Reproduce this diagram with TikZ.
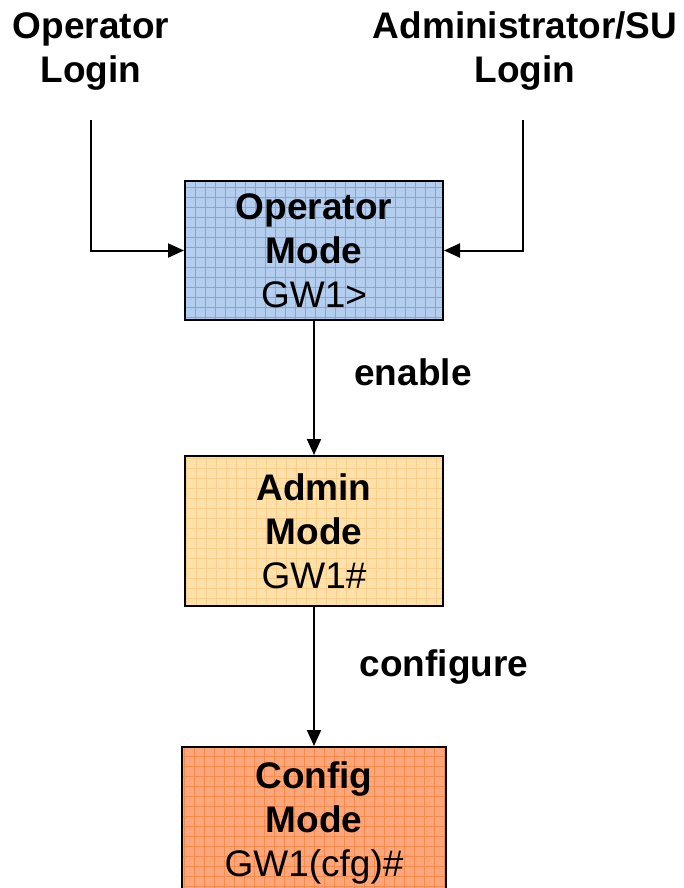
\documentclass[tikz,border=0pt]{standalone}
\usepackage{fontspec}
\setmainfont{Liberation Sans}
\usetikzlibrary{arrows.meta}

\definecolor{opfill}{HTML}{B4CEEF}
\definecolor{opline}{HTML}{7CA8E0}
\definecolor{admfill}{HTML}{FDE1AA}
\definecolor{admline}{HTML}{FBCF8A}
\definecolor{cfgfill}{HTML}{FBA77B}
\definecolor{cfgline}{HTML}{F88A4C}

\tikzset{
  modebox/.style={draw=black, line width=2pt, inner sep=0pt, align=center,
    font=\fontsize{37}{44}\selectfont},
  gridded/.style={path picture={
    \draw[#1, line width=1pt, step=10pt]
      (path picture bounding box.south west) grid (path picture bounding box.north east);}},
  label/.style={font=\fontsize{37}{44}\selectfont\bfseries, align=center, inner sep=0pt},
  flow/.style={line width=2pt, -{Triangle[length=16pt,width=14pt]}},
}

\begin{document}
\begin{tikzpicture}[x=1pt,y=-1pt]
\useasboundingbox (0,0) rectangle (684,888);
\clip (0,0) rectangle (684,888);

% entry points
\node[label] (oplogin) at (91,51.5) {Operator\\Login};
\node[label] (adlogin) at (525,51.5) {Administrator/SU\\Login};
\coordinate (opstart) at (91,120);
\coordinate (adstart) at (523,120);

% mode boxes
\node[modebox, fill=opfill, gridded=opline, minimum width=258pt, minimum height=139pt]
  (op) at (314,250.5) {\textbf{Operator}\\\textbf{Mode}\\GW1>};
\node[modebox, fill=admfill, gridded=admline, minimum width=258pt, minimum height=150pt]
  (adm) at (314,531) {\textbf{Admin}\\\textbf{Mode}\\GW1\#};
\node[modebox, fill=cfgfill, gridded=cfgline, minimum width=264pt, minimum height=151pt]
  (cfg) at (314,822.5) {\textbf{Config}\\\textbf{Mode}\\GW1(cfg)\#};

% transitions
\draw[flow] (opstart) |- (op.west);
\draw[flow] (adstart) |- (op.east);
\draw[flow] (op.south) -- (adm.north);
\draw[flow] (adm.south) -- (cfg.north);

\node[label, anchor=base] (enable) at (413,385) {enable};
\node[label, anchor=base] (configure) at (444,676) {configure};
\end{tikzpicture}
\end{document}
